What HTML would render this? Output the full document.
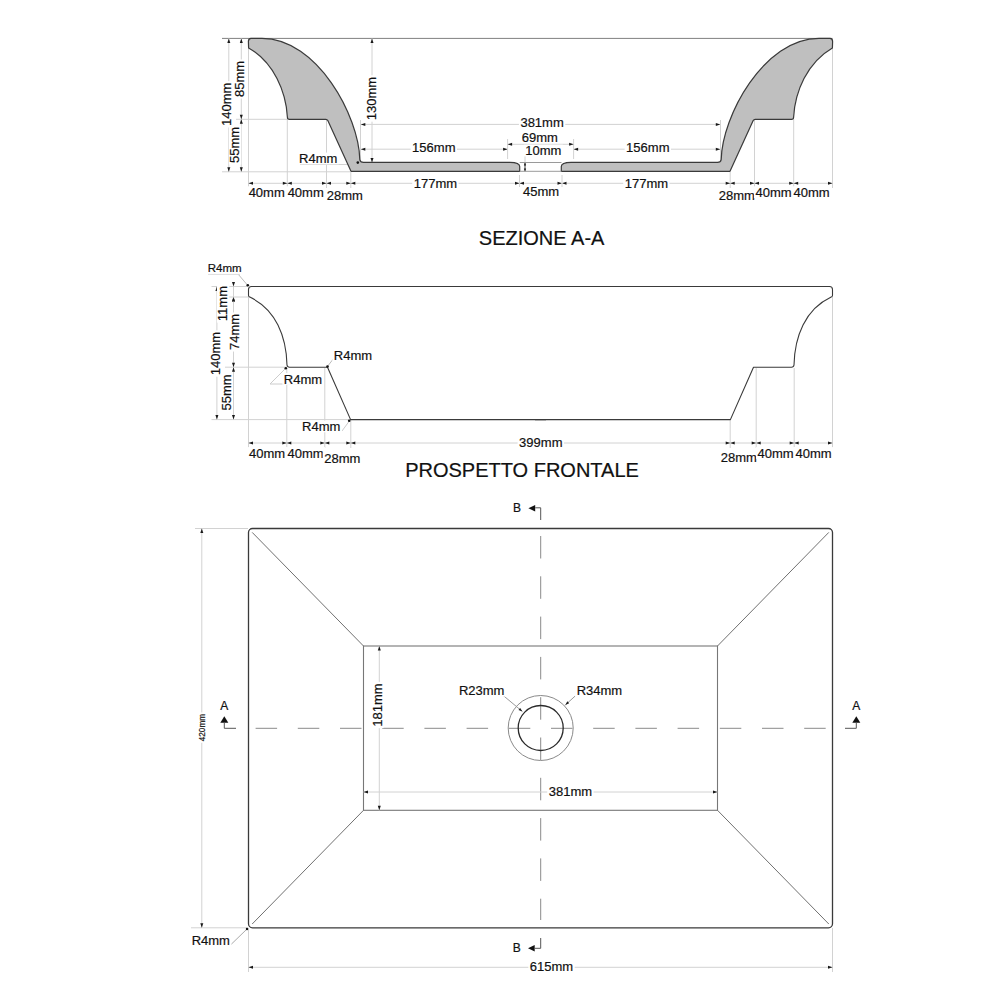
<!DOCTYPE html><html><head><meta charset="utf-8"><style>html,body{margin:0;padding:0;background:#fff;}svg{display:block;font-family:"Liberation Sans",sans-serif;} text{stroke:#111;stroke-width:0.2px;}</style></head><body>
<svg width="1000" height="1000" viewBox="0 0 1000 1000">
<rect width="1000" height="1000" fill="#fff"/>
<line x1="248.5" y1="172" x2="248.5" y2="188" stroke="#d2d2d2" stroke-width="1"/>
<line x1="287.3" y1="172" x2="287.3" y2="188" stroke="#d2d2d2" stroke-width="1"/>
<line x1="326.5" y1="172" x2="326.5" y2="188" stroke="#d2d2d2" stroke-width="1"/>
<line x1="350.8" y1="172" x2="350.8" y2="188" stroke="#d2d2d2" stroke-width="1"/>
<line x1="832.5" y1="172" x2="832.5" y2="188" stroke="#d2d2d2" stroke-width="1"/>
<line x1="793.7" y1="172" x2="793.7" y2="188" stroke="#d2d2d2" stroke-width="1"/>
<line x1="754.5" y1="172" x2="754.5" y2="188" stroke="#d2d2d2" stroke-width="1"/>
<line x1="730.2" y1="172" x2="730.2" y2="188" stroke="#d2d2d2" stroke-width="1"/>
<line x1="287.3" y1="119" x2="287.3" y2="172" stroke="#d2d2d2" stroke-width="1"/>
<line x1="326.5" y1="120" x2="326.5" y2="172" stroke="#d2d2d2" stroke-width="1"/>
<line x1="793.7" y1="119" x2="793.7" y2="172" stroke="#d2d2d2" stroke-width="1"/>
<line x1="754.5" y1="120" x2="754.5" y2="172" stroke="#d2d2d2" stroke-width="1"/>
<line x1="248.5" y1="48" x2="248.5" y2="172" stroke="#d2d2d2" stroke-width="1"/>
<line x1="832.5" y1="48" x2="832.5" y2="172" stroke="#d2d2d2" stroke-width="1"/>
<line x1="222" y1="171.8" x2="350" y2="171.8" stroke="#d2d2d2" stroke-width="1"/>
<line x1="236" y1="119.3" x2="287" y2="119.3" stroke="#d2d2d2" stroke-width="1"/>
<line x1="300" y1="164.5" x2="360" y2="164.5" stroke="#d2d2d2" stroke-width="1"/>
<line x1="222" y1="38.4" x2="832.5" y2="38.4" stroke="#808080" stroke-width="1"/>
<line x1="228.8" y1="38.4" x2="228.8" y2="171.8" stroke="#d2d2d2" stroke-width="1"/>
<polygon points="228.8,38.4 227.3,42.9 230.3,42.9" fill="#1a1a1a"/>
<polygon points="228.8,171.8 227.3,167.3 230.3,167.3" fill="#1a1a1a"/>
<line x1="241.3" y1="38.4" x2="241.3" y2="119.3" stroke="#d2d2d2" stroke-width="1"/>
<polygon points="241.3,38.4 239.8,42.9 242.8,42.9" fill="#1a1a1a"/>
<polygon points="241.3,119.3 239.8,114.8 242.8,114.8" fill="#1a1a1a"/>
<line x1="241.3" y1="119.3" x2="241.3" y2="171.8" stroke="#d2d2d2" stroke-width="1"/>
<polygon points="241.3,119.3 239.8,123.8 242.8,123.8" fill="#1a1a1a"/>
<polygon points="241.3,171.8 239.8,167.3 242.8,167.3" fill="#1a1a1a"/>
<line x1="372" y1="38.4" x2="372" y2="162.4" stroke="#d2d2d2" stroke-width="1"/>
<polygon points="372,38.4 370.5,42.9 373.5,42.9" fill="#1a1a1a"/>
<polygon points="372,162.4 370.5,157.9 373.5,157.9" fill="#1a1a1a"/>
<line x1="360.5" y1="124.4" x2="720.5" y2="124.4" stroke="#d2d2d2" stroke-width="1"/>
<polygon points="360.8,124.4 365.3,122.9 365.3,125.9" fill="#1a1a1a"/>
<polygon points="720.3,124.4 715.8,122.9 715.8,125.9" fill="#1a1a1a"/>
<line x1="360.5" y1="149.2" x2="507.6" y2="149.2" stroke="#d2d2d2" stroke-width="1"/>
<polygon points="360.8,149.2 365.3,147.7 365.3,150.7" fill="#1a1a1a"/>
<polygon points="507.6,149.2 503.1,147.7 503.1,150.7" fill="#1a1a1a"/>
<line x1="573.6" y1="149.2" x2="720.5" y2="149.2" stroke="#d2d2d2" stroke-width="1"/>
<polygon points="573.6,149.2 578.1,147.7 578.1,150.7" fill="#1a1a1a"/>
<polygon points="720.3,149.2 715.8,147.7 715.8,150.7" fill="#1a1a1a"/>
<line x1="507.6" y1="139" x2="507.6" y2="159" stroke="#d2d2d2" stroke-width="1"/>
<line x1="573.6" y1="139" x2="573.6" y2="159" stroke="#d2d2d2" stroke-width="1"/>
<line x1="507.6" y1="144.3" x2="573.6" y2="144.3" stroke="#d2d2d2" stroke-width="1"/>
<polygon points="507.6,144.3 512.1,142.8 512.1,145.8" fill="#1a1a1a"/>
<polygon points="573.6,144.3 569.1,142.8 569.1,145.8" fill="#1a1a1a"/>
<line x1="360.5" y1="120" x2="360.5" y2="160" stroke="#d2d2d2" stroke-width="1"/>
<line x1="720.5" y1="120" x2="720.5" y2="160" stroke="#d2d2d2" stroke-width="1"/>
<line x1="525" y1="156" x2="525" y2="162.6" stroke="#d2d2d2" stroke-width="1"/>
<line x1="525" y1="162.6" x2="525" y2="171.4" stroke="#444" stroke-width="1"/>
<polygon points="525,162.6 523.9,165.6 526.1,165.6" fill="#1a1a1a"/>
<polygon points="525,171.4 523.9,168.4 526.1,168.4" fill="#1a1a1a"/>
<line x1="248.5" y1="183.3" x2="832.5" y2="183.3" stroke="#d2d2d2" stroke-width="1"/>
<polygon points="248.5,183.3 253.0,181.8 253.0,184.8" fill="#1a1a1a"/>
<polygon points="287.3,183.3 282.8,181.8 282.8,184.8" fill="#1a1a1a"/>
<polygon points="287.3,183.3 291.8,181.8 291.8,184.8" fill="#1a1a1a"/>
<polygon points="326.5,183.3 322.0,181.8 322.0,184.8" fill="#1a1a1a"/>
<polygon points="326.5,183.3 331.0,181.8 331.0,184.8" fill="#1a1a1a"/>
<polygon points="350.8,183.3 346.3,181.8 346.3,184.8" fill="#1a1a1a"/>
<polygon points="350.8,183.3 355.3,181.8 355.3,184.8" fill="#1a1a1a"/>
<polygon points="519.5,183.3 515.0,181.8 515.0,184.8" fill="#1a1a1a"/>
<polygon points="519.5,183.3 524.0,181.8 524.0,184.8" fill="#1a1a1a"/>
<polygon points="562,183.3 566.5,181.8 566.5,184.8" fill="#1a1a1a"/>
<polygon points="562,183.3 557.5,181.8 557.5,184.8" fill="#1a1a1a"/>
<polygon points="730.2,183.3 725.7,181.8 725.7,184.8" fill="#1a1a1a"/>
<polygon points="730.2,183.3 734.7,181.8 734.7,184.8" fill="#1a1a1a"/>
<polygon points="754.5,183.3 750.0,181.8 750.0,184.8" fill="#1a1a1a"/>
<polygon points="754.5,183.3 759.0,181.8 759.0,184.8" fill="#1a1a1a"/>
<polygon points="793.7,183.3 789.2,181.8 789.2,184.8" fill="#1a1a1a"/>
<polygon points="793.7,183.3 798.2,181.8 798.2,184.8" fill="#1a1a1a"/>
<polygon points="832.5,183.3 828.0,181.8 828.0,184.8" fill="#1a1a1a"/>
<line x1="519.5" y1="175" x2="519.5" y2="187" stroke="#d2d2d2" stroke-width="1"/>
<line x1="562" y1="175" x2="562" y2="187" stroke="#d2d2d2" stroke-width="1"/>
<path d="M251,38.4 L262,38.4 C317.4,38.4 359,116.5 359.8,159.6 Q360.3,162.4 363.5,162.4 L510,162.4 Q519.7,162.6 519.7,166.5 L519.7,171.3 L351,171.3 L327.8,120.5 Q327.2,119.3 325.8,119.3 L289.5,119.3 Q287.4,119.3 287.4,117.2 C286,92 274,62.5 248.6,47.9 L248.4,41.5 Q248.4,38.4 251,38.4 Z" fill="#bfbfbf" stroke="#3a3a3a" stroke-width="1.2" stroke-linejoin="round"/>
<g transform="translate(1081,0) scale(-1,1)"><path d="M251,38.4 L262,38.4 C317.4,38.4 359,116.5 359.8,159.6 Q360.3,162.4 363.5,162.4 L510,162.4 Q519.7,162.6 519.7,166.5 L519.7,171.3 L351,171.3 L327.8,120.5 Q327.2,119.3 325.8,119.3 L289.5,119.3 Q287.4,119.3 287.4,117.2 C286,92 274,62.5 248.6,47.9 L248.4,41.5 Q248.4,38.4 251,38.4 Z" fill="#bfbfbf" stroke="#3a3a3a" stroke-width="1.2" stroke-linejoin="round"/></g>
<line x1="519.7" y1="162.5" x2="561.5" y2="162.5" stroke="#9a9a9a" stroke-width="1"/>
<line x1="519.7" y1="171.3" x2="561.5" y2="171.3" stroke="#9a9a9a" stroke-width="1"/>
<circle cx="357.8" cy="162.6" r="1.3" fill="#111"/>
<rect x="220.2" y="81.12575" width="12.35" height="46.348499999999994" fill="#fff"/>
<text transform="translate(230.6,104.3) rotate(-90)" x="0" y="0" font-size="13" text-anchor="middle" fill="#111">140mm</text>
<rect x="233.9" y="59.440765625" width="12.35" height="39.11846875" fill="#fff"/>
<text transform="translate(244.3,79) rotate(-90)" x="0" y="0" font-size="13" text-anchor="middle" fill="#111">85mm</text>
<rect x="228.9" y="125.440765625" width="12.35" height="39.11846875" fill="#fff"/>
<text transform="translate(239.3,145) rotate(-90)" x="0" y="0" font-size="13" text-anchor="middle" fill="#111">55mm</text>
<rect x="365.8" y="75.32575" width="12.35" height="46.348499999999994" fill="#fff"/>
<text transform="translate(376.2,98.5) rotate(-90)" x="0" y="0" font-size="13" text-anchor="middle" fill="#111">130mm</text>
<rect x="297.5616640625" y="152.6" width="41.276671875" height="11.700000000000001" fill="#fff"/>
<text x="318.2" y="163" font-size="13" text-anchor="middle" fill="#111">R4mm</text>
<rect x="518.92575" y="117.0" width="46.348499999999994" height="11.700000000000001" fill="#fff"/>
<text x="542.1" y="127.4" font-size="13" text-anchor="middle" fill="#111">381mm</text>
<rect x="520.240765625" y="131.29999999999998" width="39.11846875" height="11.700000000000001" fill="#fff"/>
<text x="539.8" y="141.7" font-size="13" text-anchor="middle" fill="#111">69mm</text>
<rect x="523.840765625" y="144.7" width="39.11846875" height="11.700000000000001" fill="#fff"/>
<text x="543.4" y="155.1" font-size="13" text-anchor="middle" fill="#111">10mm</text>
<rect x="410.62575000000004" y="141.5" width="46.348499999999994" height="11.700000000000001" fill="#fff"/>
<text x="433.8" y="151.9" font-size="13" text-anchor="middle" fill="#111">156mm</text>
<rect x="624.6257499999999" y="141.7" width="46.348499999999994" height="11.700000000000001" fill="#fff"/>
<text x="647.8" y="152.1" font-size="13" text-anchor="middle" fill="#111">156mm</text>
<rect x="412.22575" y="177.2" width="46.348499999999994" height="11.700000000000001" fill="#fff"/>
<text x="435.4" y="187.6" font-size="13" text-anchor="middle" fill="#111">177mm</text>
<rect x="623.22575" y="177.4" width="46.348499999999994" height="11.700000000000001" fill="#fff"/>
<text x="646.4" y="187.8" font-size="13" text-anchor="middle" fill="#111">177mm</text>
<rect x="521.5407656250001" y="186.0" width="39.11846875" height="11.700000000000001" fill="#fff"/>
<text x="541.1" y="196.4" font-size="13" text-anchor="middle" fill="#111">45mm</text>
<rect x="247.140765625" y="186.29999999999998" width="39.11846875" height="11.700000000000001" fill="#fff"/>
<text x="266.7" y="196.7" font-size="13" text-anchor="middle" fill="#111">40mm</text>
<rect x="286.140765625" y="186.29999999999998" width="39.11846875" height="11.700000000000001" fill="#fff"/>
<text x="305.7" y="196.7" font-size="13" text-anchor="middle" fill="#111">40mm</text>
<rect x="325.240765625" y="189.5" width="39.11846875" height="11.700000000000001" fill="#fff"/>
<text x="344.8" y="199.9" font-size="13" text-anchor="middle" fill="#111">28mm</text>
<rect x="717.240765625" y="189.5" width="39.11846875" height="11.700000000000001" fill="#fff"/>
<text x="736.8" y="199.9" font-size="13" text-anchor="middle" fill="#111">28mm</text>
<rect x="753.940765625" y="186.29999999999998" width="39.11846875" height="11.700000000000001" fill="#fff"/>
<text x="773.5" y="196.7" font-size="13" text-anchor="middle" fill="#111">40mm</text>
<rect x="792.0407656250001" y="186.29999999999998" width="39.11846875" height="11.700000000000001" fill="#fff"/>
<text x="811.6" y="196.7" font-size="13" text-anchor="middle" fill="#111">40mm</text>
<rect x="477.30656250000004" y="229.2" width="128.586875" height="18.0" fill="#fff"/>
<text x="541.6" y="245.2" font-size="20" text-anchor="middle" fill="#111">SEZIONE A-A</text>
<line x1="211.5" y1="286.5" x2="248" y2="286.5" stroke="#d2d2d2" stroke-width="1"/>
<line x1="228" y1="297" x2="250" y2="297" stroke="#d2d2d2" stroke-width="1"/>
<line x1="225" y1="367.2" x2="287" y2="367.2" stroke="#d2d2d2" stroke-width="1"/>
<line x1="211.5" y1="419.6" x2="350" y2="419.6" stroke="#d2d2d2" stroke-width="1"/>
<line x1="248.5" y1="297" x2="248.5" y2="448" stroke="#d2d2d2" stroke-width="1"/>
<line x1="286.8" y1="368" x2="286.8" y2="448" stroke="#d2d2d2" stroke-width="1"/>
<line x1="324.8" y1="368" x2="324.8" y2="448" stroke="#d2d2d2" stroke-width="1"/>
<line x1="350.8" y1="420" x2="350.8" y2="448" stroke="#d2d2d2" stroke-width="1"/>
<line x1="832.5" y1="297" x2="832.5" y2="448" stroke="#d2d2d2" stroke-width="1"/>
<line x1="794.2" y1="368" x2="794.2" y2="448" stroke="#d2d2d2" stroke-width="1"/>
<line x1="756.2" y1="368" x2="756.2" y2="448" stroke="#d2d2d2" stroke-width="1"/>
<line x1="730.2" y1="420" x2="730.2" y2="448" stroke="#d2d2d2" stroke-width="1"/>
<line x1="216.9" y1="286.5" x2="216.9" y2="419.6" stroke="#d2d2d2" stroke-width="1"/>
<polygon points="216.9,286.5 215.4,291.0 218.4,291.0" fill="#1a1a1a"/>
<polygon points="216.9,419.6 215.4,415.1 218.4,415.1" fill="#1a1a1a"/>
<line x1="233.5" y1="286.5" x2="233.5" y2="297" stroke="#d2d2d2" stroke-width="1"/>
<polygon points="233.5,286.5 232.0,282.0 235.0,282.0" fill="#1a1a1a"/>
<polygon points="233.5,297 232.0,301.5 235.0,301.5" fill="#1a1a1a"/>
<line x1="233.5" y1="297" x2="233.5" y2="367.2" stroke="#d2d2d2" stroke-width="1"/>
<polygon points="233.5,297 232.0,301.5 235.0,301.5" fill="#1a1a1a"/>
<polygon points="233.5,367.2 232.0,362.7 235.0,362.7" fill="#1a1a1a"/>
<line x1="233.5" y1="367.2" x2="233.5" y2="419.6" stroke="#d2d2d2" stroke-width="1"/>
<polygon points="233.5,367.2 232.0,371.7 235.0,371.7" fill="#1a1a1a"/>
<polygon points="233.5,419.6 232.0,415.1 235.0,415.1" fill="#1a1a1a"/>
<line x1="248.5" y1="443" x2="832.5" y2="443" stroke="#d2d2d2" stroke-width="1"/>
<polygon points="248.5,443 253.0,441.5 253.0,444.5" fill="#1a1a1a"/>
<polygon points="286.8,443 282.3,441.5 282.3,444.5" fill="#1a1a1a"/>
<polygon points="286.8,443 291.3,441.5 291.3,444.5" fill="#1a1a1a"/>
<polygon points="324.8,443 320.3,441.5 320.3,444.5" fill="#1a1a1a"/>
<polygon points="324.8,443 329.3,441.5 329.3,444.5" fill="#1a1a1a"/>
<polygon points="350.8,443 346.3,441.5 346.3,444.5" fill="#1a1a1a"/>
<polygon points="350.8,443 355.3,441.5 355.3,444.5" fill="#1a1a1a"/>
<polygon points="730.2,443 725.7,441.5 725.7,444.5" fill="#1a1a1a"/>
<polygon points="730.2,443 734.7,441.5 734.7,444.5" fill="#1a1a1a"/>
<polygon points="756.2,443 751.7,441.5 751.7,444.5" fill="#1a1a1a"/>
<polygon points="756.2,443 760.7,441.5 760.7,444.5" fill="#1a1a1a"/>
<polygon points="794.2,443 789.7,441.5 789.7,444.5" fill="#1a1a1a"/>
<polygon points="794.2,443 798.7,441.5 798.7,444.5" fill="#1a1a1a"/>
<polygon points="832.5,443 828.0,441.5 828.0,444.5" fill="#1a1a1a"/>
<line x1="238" y1="274" x2="247.8" y2="285.5" stroke="#bbb" stroke-width="1"/>
<line x1="327.8" y1="366" x2="334" y2="358" stroke="#bbb" stroke-width="1"/>
<line x1="285.5" y1="368.5" x2="270" y2="384" stroke="#ccc" stroke-width="1"/>
<line x1="270" y1="384" x2="322" y2="384" stroke="#ccc" stroke-width="1"/>
<line x1="349.2" y1="421.2" x2="342" y2="431" stroke="#ccc" stroke-width="1"/>
<path d="M546,286.5 L251.5,286.5 Q248.5,286.5 248.5,289.5 L248.5,295.5 Q248.6,296.6 249.8,297.1 C276,309.3 286.3,336.8 287,365 Q287.3,367.2 289.5,367.2 L327.5,367.2 L350.6,419.6 L546,419.6" fill="none" stroke="#3a3a3a" stroke-width="1.1" stroke-linejoin="round"/>
<g transform="translate(1081,0) scale(-1,1)"><path d="M546,286.5 L251.5,286.5 Q248.5,286.5 248.5,289.5 L248.5,295.5 Q248.6,296.6 249.8,297.1 C276,309.3 286.3,336.8 287,365 Q287.3,367.2 289.5,367.2 L327.5,367.2 L350.6,419.6 L546,419.6" fill="none" stroke="#3a3a3a" stroke-width="1.1" stroke-linejoin="round"/></g>
<circle cx="247.8" cy="285.2" r="1.3" fill="#111"/>
<circle cx="285.8" cy="368.3" r="1.3" fill="#111"/>
<circle cx="327.5" cy="366.5" r="1.3" fill="#111"/>
<circle cx="349.2" cy="420.8" r="1.3" fill="#111"/>
<rect x="209.2" y="330.32575" width="12.35" height="46.348499999999994" fill="#fff"/>
<text transform="translate(219.6,353.5) rotate(-90)" x="0" y="0" font-size="13" text-anchor="middle" fill="#111">140mm</text>
<rect x="216.9" y="284.5231875" width="12.35" height="38.153625" fill="#fff"/>
<text transform="translate(227.3,303.6) rotate(-90)" x="0" y="0" font-size="13" text-anchor="middle" fill="#111">11mm</text>
<rect x="228.4" y="312.440765625" width="12.35" height="39.11846875" fill="#fff"/>
<text transform="translate(238.8,332) rotate(-90)" x="0" y="0" font-size="13" text-anchor="middle" fill="#111">74mm</text>
<rect x="220.5" y="372.940765625" width="12.35" height="39.11846875" fill="#fff"/>
<text transform="translate(230.9,392.5) rotate(-90)" x="0" y="0" font-size="13" text-anchor="middle" fill="#111">55mm</text>
<rect x="206.26993359374998" y="262.7" width="36.8601328125" height="10.35" fill="#fff"/>
<text x="224.7" y="271.9" font-size="11.5" text-anchor="middle" fill="#111">R4mm</text>
<line x1="208" y1="274.4" x2="240" y2="274.4" stroke="#ddd" stroke-width="1"/>
<rect x="332.3616640625" y="349.6" width="41.276671875" height="11.700000000000001" fill="#fff"/>
<text x="353" y="360" font-size="13" text-anchor="middle" fill="#111">R4mm</text>
<rect x="282.3616640625" y="373.1" width="41.276671875" height="11.700000000000001" fill="#fff"/>
<text x="303" y="383.5" font-size="13" text-anchor="middle" fill="#111">R4mm</text>
<rect x="300.5616640625" y="420.6" width="41.276671875" height="11.700000000000001" fill="#fff"/>
<text x="321.2" y="431" font-size="13" text-anchor="middle" fill="#111">R4mm</text>
<rect x="517.6257499999999" y="436.1" width="46.348499999999994" height="11.700000000000001" fill="#fff"/>
<text x="540.8" y="446.5" font-size="13" text-anchor="middle" fill="#111">399mm</text>
<rect x="247.440765625" y="447.1" width="39.11846875" height="11.700000000000001" fill="#fff"/>
<text x="267" y="457.5" font-size="13" text-anchor="middle" fill="#111">40mm</text>
<rect x="285.940765625" y="447.1" width="39.11846875" height="11.700000000000001" fill="#fff"/>
<text x="305.5" y="457.5" font-size="13" text-anchor="middle" fill="#111">40mm</text>
<rect x="322.740765625" y="452.40000000000003" width="39.11846875" height="11.700000000000001" fill="#fff"/>
<text x="342.3" y="462.8" font-size="13" text-anchor="middle" fill="#111">28mm</text>
<rect x="719.340765625" y="451.1" width="39.11846875" height="11.700000000000001" fill="#fff"/>
<text x="738.9" y="461.5" font-size="13" text-anchor="middle" fill="#111">28mm</text>
<rect x="756.0407656250001" y="447.1" width="39.11846875" height="11.700000000000001" fill="#fff"/>
<text x="775.6" y="457.5" font-size="13" text-anchor="middle" fill="#111">40mm</text>
<rect x="794.0407656250001" y="447.1" width="39.11846875" height="11.700000000000001" fill="#fff"/>
<text x="813.6" y="457.5" font-size="13" text-anchor="middle" fill="#111">40mm</text>
<rect x="403.62921875" y="460.7" width="236.7415625" height="18.0" fill="#fff"/>
<text x="522" y="476.7" font-size="20" text-anchor="middle" fill="#111">PROSPETTO FRONTALE</text>
<line x1="255.6" y1="728.3" x2="827" y2="728.3" stroke="#8a8a8a" stroke-width="1" stroke-dasharray="21.5 20.7"/>
<line x1="540.7" y1="536" x2="540.7" y2="920" stroke="#8a8a8a" stroke-width="1" stroke-dasharray="22.5 17.8"/>
<rect x="248.5" y="528.5" width="584" height="399.3" rx="4" ry="4" fill="none" stroke="#3a3a3a" stroke-width="1.3"/>
<rect x="363.5" y="646" width="354" height="164.3" fill="none" stroke="#777" stroke-width="1.1"/>
<line x1="252.2" y1="532.4" x2="363.5" y2="646" stroke="#707070" stroke-width="1"/>
<line x1="828.8" y1="532.4" x2="717.5" y2="646" stroke="#707070" stroke-width="1"/>
<line x1="252.2" y1="924" x2="363.5" y2="810.3" stroke="#707070" stroke-width="1"/>
<line x1="828.8" y1="924" x2="717.5" y2="810.3" stroke="#707070" stroke-width="1"/>
<circle cx="540.7" cy="728" r="32.5" fill="none" stroke="#8a8a8a" stroke-width="1"/>
<circle cx="540.7" cy="728" r="22.5" fill="none" stroke="#2a2a2a" stroke-width="1.3"/>
<line x1="502.6" y1="695" x2="522.4" y2="711.5" stroke="#999" stroke-width="1"/>
<polygon points="522.4,711.5 518.4948751620466,709.9379500648187 520.1593546011743,707.9405747378654" fill="#1a1a1a"/>
<line x1="575.2" y1="696" x2="565.3" y2="705" stroke="#999" stroke-width="1"/>
<polygon points="565.3,705 567.3852856613886,701.3473867286001 569.134234925779,703.2712309194295" fill="#1a1a1a"/>
<rect x="457.4466484375" y="684.9" width="48.506703124999994" height="11.700000000000001" fill="#fff"/>
<text x="481.7" y="695.3" font-size="13" text-anchor="middle" fill="#111">R23mm</text>
<rect x="575.1466484375" y="684.9" width="48.506703124999994" height="11.700000000000001" fill="#fff"/>
<text x="599.4" y="695.3" font-size="13" text-anchor="middle" fill="#111">R34mm</text>
<line x1="379.3" y1="646" x2="379.3" y2="810.3" stroke="#d2d2d2" stroke-width="1"/>
<polygon points="379.3,646 377.8,650.5 380.8,650.5" fill="#1a1a1a"/>
<polygon points="379.3,810.3 377.8,805.8 380.8,805.8" fill="#1a1a1a"/>
<rect x="371.20000000000005" y="681.82575" width="12.35" height="46.348499999999994" fill="#fff"/>
<text transform="translate(381.6,705) rotate(-90)" x="0" y="0" font-size="13" text-anchor="middle" fill="#111">181mm</text>
<line x1="363.5" y1="792" x2="717.5" y2="792" stroke="#d2d2d2" stroke-width="1"/>
<polygon points="363.5,792 368.0,790.5 368.0,793.5" fill="#1a1a1a"/>
<polygon points="717.5,792 713.0,790.5 713.0,793.5" fill="#1a1a1a"/>
<rect x="547.22575" y="785.1" width="46.348499999999994" height="11.700000000000001" fill="#fff"/>
<text x="570.4" y="795.5" font-size="13" text-anchor="middle" fill="#111">381mm</text>
<line x1="195" y1="528.5" x2="248" y2="528.5" stroke="#d2d2d2" stroke-width="1"/>
<line x1="191" y1="927.8" x2="248" y2="927.8" stroke="#d2d2d2" stroke-width="1"/>
<line x1="201.8" y1="528.5" x2="201.8" y2="927.8" stroke="#d2d2d2" stroke-width="1"/>
<polygon points="201.8,528.5 200.3,533.0 203.3,533.0" fill="#1a1a1a"/>
<polygon points="201.8,927.8 200.3,923.3 203.3,923.3" fill="#1a1a1a"/>
<rect x="198.44" y="712.42855" width="7.789999999999999" height="30.342899999999997" fill="#fff"/>
<text transform="translate(205,727.6) rotate(-90)" x="0" y="0" font-size="8.2" text-anchor="middle" fill="#111">420mm</text>
<line x1="248.5" y1="928" x2="248.5" y2="972" stroke="#d2d2d2" stroke-width="1"/>
<line x1="832.5" y1="928" x2="832.5" y2="972" stroke="#d2d2d2" stroke-width="1"/>
<line x1="248.5" y1="967.3" x2="832.5" y2="967.3" stroke="#d2d2d2" stroke-width="1"/>
<polygon points="248.5,967.3 253.0,965.8 253.0,968.8" fill="#1a1a1a"/>
<polygon points="832.5,967.3 828.0,965.8 828.0,968.8" fill="#1a1a1a"/>
<rect x="528.32575" y="960.4" width="46.348499999999994" height="11.700000000000001" fill="#fff"/>
<text x="551.5" y="970.8" font-size="13" text-anchor="middle" fill="#111">615mm</text>
<line x1="231" y1="944.5" x2="247" y2="929" stroke="#aaa" stroke-width="1"/>
<line x1="191" y1="944.8" x2="231" y2="944.5" stroke="#ddd" stroke-width="1"/>
<rect x="190.16166406250002" y="934.6" width="41.276671875" height="11.700000000000001" fill="#fff"/>
<text x="210.8" y="945" font-size="13" text-anchor="middle" fill="#111">R4mm</text>
<circle cx="247" cy="929" r="1.2" fill="#111"/>
<polygon points="224.3,716.2 220.3,722.7 228.3,722.7" fill="#111"/>
<text x="224.3" y="709.8" font-size="12" text-anchor="middle" fill="#111">A</text>
<polygon points="856.3,716.2 852.3,722.7 860.3,722.7" fill="#111"/>
<text x="856.3" y="709.8" font-size="12" text-anchor="middle" fill="#111">A</text>
<line x1="224.3" y1="722.7" x2="224.3" y2="728.3" stroke="#555" stroke-width="1"/>
<line x1="224.3" y1="728.3" x2="236" y2="728.3" stroke="#555" stroke-width="1"/>
<line x1="856.3" y1="722.7" x2="856.3" y2="728.3" stroke="#555" stroke-width="1"/>
<line x1="856.3" y1="728.3" x2="845" y2="728.3" stroke="#555" stroke-width="1"/>
<polygon points="528.4,508.2 535.2,505 535.2,511.4" fill="#111"/>
<line x1="535.2" y1="507.8" x2="540.7" y2="507.8" stroke="#555" stroke-width="1"/>
<line x1="540.7" y1="507.8" x2="540.7" y2="520" stroke="#555" stroke-width="1"/>
<text x="517" y="512.2" font-size="12" text-anchor="middle" fill="#111">B</text>
<polygon points="528,948.3 534.7,945 534.7,951.6" fill="#111"/>
<line x1="534.7" y1="948.3" x2="540.7" y2="948.3" stroke="#555" stroke-width="1"/>
<line x1="540.7" y1="948.3" x2="540.7" y2="938" stroke="#555" stroke-width="1"/>
<text x="516.7" y="952.3" font-size="12" text-anchor="middle" fill="#111">B</text>
</svg></body></html>
